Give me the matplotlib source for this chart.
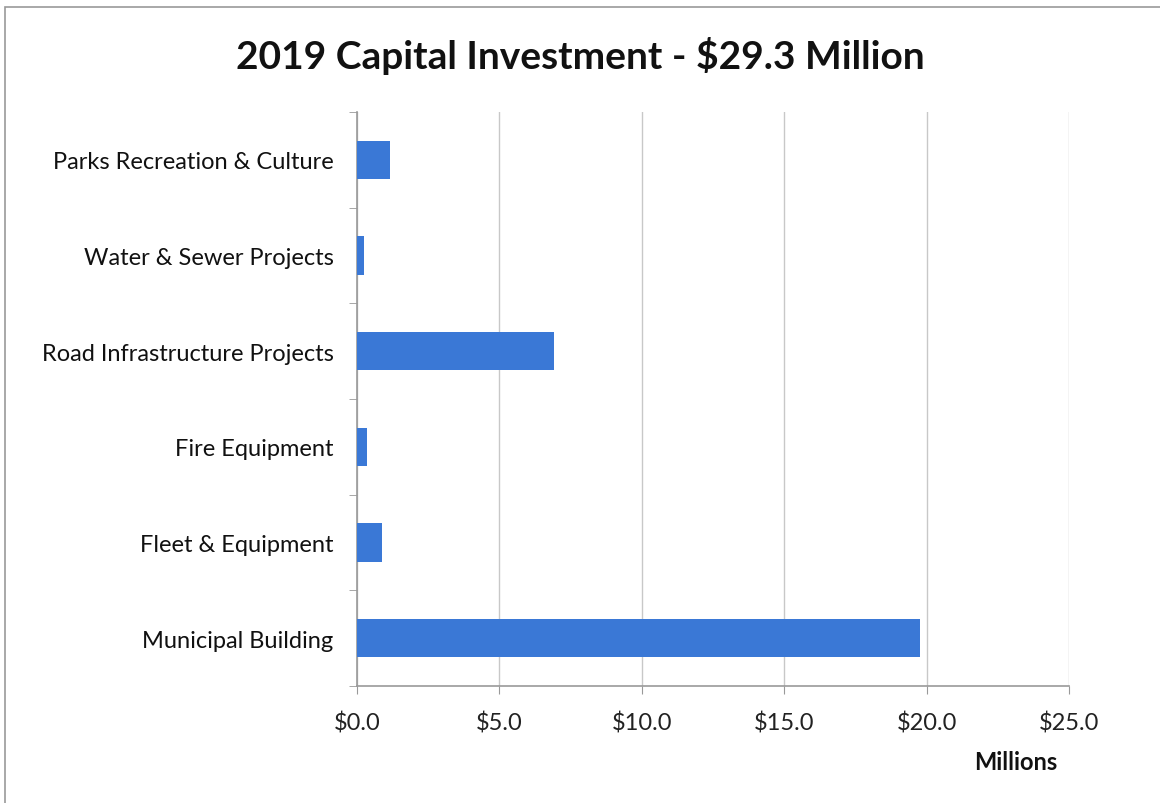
import matplotlib.pyplot as plt
from matplotlib.patches import Rectangle

categories = ["Parks Recreation & Culture", "Water & Sewer Projects",
              "Road Infrastructure Projects", "Fire Equipment",
              "Fleet & Equipment", "Municipal Building"]
values = [1.15, 0.25, 6.92, 0.35, 0.89, 19.75]
xticks = [0, 5, 10, 15, 20, 25]
xtick_labels = ["$0.0", "$5.0", "$10.0", "$15.0", "$20.0", "$25.0"]

plt.rcParams['font.family'] = ['Lato', 'DejaVu Sans']

fig = plt.figure(figsize=(11.6, 8.04), dpi=100)
ax = fig.add_axes([0.3078, 0.1455, 0.6138, 0.714])

# categories from top to bottom
ypos = list(range(len(categories)))[::-1]
ax.barh(ypos, values, height=0.4, color="#3a78d6", zorder=3)

ax.set_xlim(0, 25)
ax.set_ylim(-0.5, len(categories) - 0.5)
ax.set_xticks(xticks)
ax.set_xticklabels(xtick_labels, fontsize=17, color="#222222")
ax.set_yticks(ypos)
ax.set_yticklabels(categories, fontsize=17, color="#111111")
ax.set_yticks([i - 0.5 for i in range(len(categories) + 1)], minor=True)

ax.tick_params(axis='y', which='major', length=0, pad=17)
ax.tick_params(axis='y', which='minor', length=6, color="#999999")
ax.tick_params(axis='x', length=6, color="#999999", pad=12)

ax.grid(axis='x', color="#c8c8c8", linewidth=1, zorder=0)
for side in ("top", "right"):
    ax.spines[side].set_visible(False)
for side in ("left", "bottom"):
    ax.spines[side].set_color("#999999")
    ax.spines[side].set_linewidth(1.2)

fig.text(0.5, 0.93, "2019 Capital Investment - $29.3 Million", ha='center',
         va='center', fontsize=28, fontweight='bold', color="#111111")
fig.text(0.876, 0.052, "Millions", ha='center', va='center', fontsize=17,
         fontweight='bold', color="#111111")

# outer frame around the chart area
fig.patches.append(Rectangle((5 / 1160, -0.02), 1.02, 0.01 + (804 - 8) / 804 + 0.01,
                             transform=fig.transFigure, fill=False,
                             edgecolor="#999999", linewidth=1.2))

fig.savefig("out.png", dpi=100)
